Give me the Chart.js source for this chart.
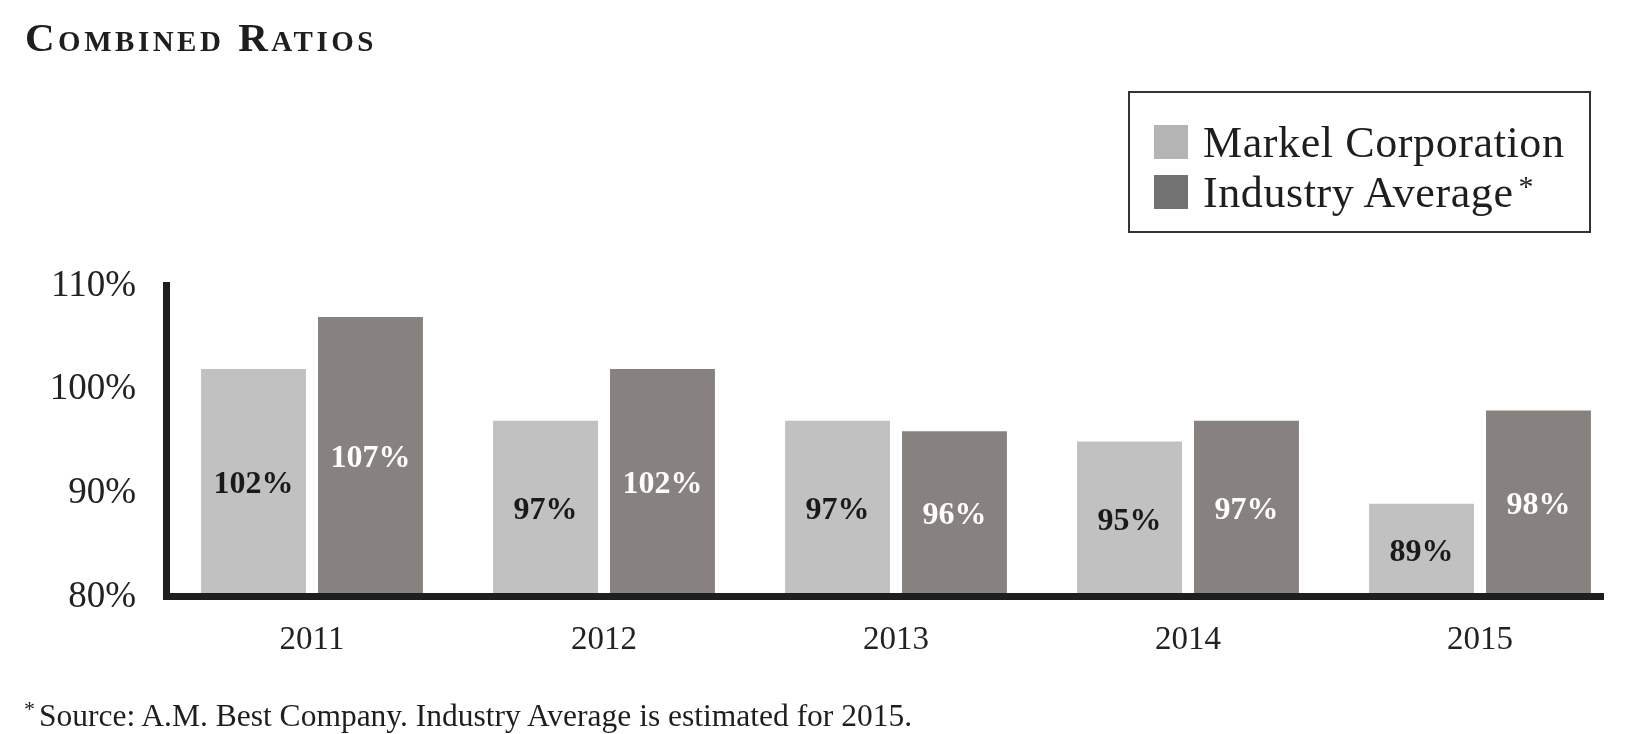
<!DOCTYPE html>
<html>
<head>
<meta charset="utf-8">
<script src="https://cdn.jsdelivr.net/npm/chart.js@4"></script>
<style>
    body { margin: 0; background: #fff; }
    #wrap { position: relative; width: 1644px; height: 734px; font-family: "Liberation Serif", serif; color: #1e1e1e; }
    #title { position: absolute; left: 25px; top: 13px; font-size: 41px; font-weight: bold; font-variant: small-caps; letter-spacing: 3.5px; }
    #legend { position: absolute; left: 1128px; top: 91px; width: 459px; height: 138px; border: 2px solid #333; }
    .item { position: absolute; left: 24px; height: 40px; display: flex; align-items: center; font-size: 44px; letter-spacing: 0.6px; white-space: nowrap; }
    .item span.sw { display: inline-block; width: 34px; height: 34px; margin-right: 15px; }
    .item sup { font-size: 30px; margin-left: 5px; position: relative; top: -6px; }
    #note { position: absolute; left: 24px; top: 694px; font-size: 31.5px; white-space: nowrap; }
    #note sup { font-size: 22px; margin-right: 4px; position: relative; top: 2px; }
    canvas { position: absolute; left: 0; top: 0; }
</style>
</head>
<body>
<div id="wrap">
    <canvas id="ratioChart" width="1644" height="734"></canvas>
    <div id="title">Combined Ratios</div>
    <div id="legend"></div>
    <div id="note"><sup>*</sup>Source: A.M. Best Company. Industry Average is estimated for 2015.</div>
</div>
<script>
// --- Data ---
const years = ['2011', '2012', '2013', '2014', '2015'];
const markelRatios = [102, 97, 97, 95, 89];
const industryRatios = [107, 102, 96, 97, 98];
const seriesLabels = ['Markel Corporation', 'Industry Average'];
const seriesNotes = ['', '*'];
const barColors = ['#c1c1c1', '#87827f'];
const legendColors = ['#b4b4b4', '#727272'];
const valueColors = ['#1a1a1a', '#ffffff'];
const yTicks = [80, 90, 100, 110];

// --- Legend (html, boxed) ---
const legendEl = document.getElementById('legend');
seriesLabels.forEach((lbl, i) => {
    const row = document.createElement('div');
    row.className = 'item';
    row.style.top = (29 + i * 50) + 'px';
    row.innerHTML = `<span class="sw" style="background:${legendColors[i]}"></span>${lbl}` +
        (seriesNotes[i] ? `<sup>${seriesNotes[i]}</sup>` : '');
    legendEl.appendChild(row);
});

// thick black axes, drawn over the bar feet
const axisLines = {
    id: 'axisLines',
    afterDatasetsDraw(chart) {
        const { ctx, chartArea } = chart;
        ctx.save();
        ctx.fillStyle = '#1e1e1e';
        ctx.fillRect(chartArea.left - 3, chartArea.top - 4, 7, chartArea.bottom - chartArea.top + 7);
        ctx.fillRect(chartArea.left - 3, chartArea.bottom - 4, chartArea.right - 19 - chartArea.left, 7);
        ctx.restore();
    }
};

// value labels centred in the visible part of each bar
const barValues = {
    id: 'barValues',
    afterDraw(chart) {
        const ctx = chart.ctx;
        const bottom = chart.chartArea.bottom;
        ctx.save();
        ctx.font = 'bold 32px "Liberation Serif", serif';
        ctx.textAlign = 'center';
        ctx.textBaseline = 'middle';
        chart.data.datasets.forEach((ds, di) => {
            chart.getDatasetMeta(di).data.forEach((bar, i) => {
                const base = Math.min(bar.base, bottom);
                ctx.fillStyle = valueColors[di];
                ctx.fillText(ds.data[i] + '%', bar.x, (bar.y + base) / 2 + 2);
            });
        });
        ctx.restore();
    }
};

new Chart(document.getElementById('ratioChart'), {
    type: 'bar',
    data: {
        labels: years,
        datasets: [
            { label: seriesLabels[0], data: markelRatios, backgroundColor: barColors[0] },
            { label: seriesLabels[1], data: industryRatios, backgroundColor: barColors[1] }
        ]
    },
    options: {
        responsive: false,
        animation: false,
        categoryPercentage: 0.801,
        barPercentage: 0.897,
        layout: { padding: { top: 286, right: 18, bottom: 0, left: 0 } },
        plugins: { legend: { display: false }, tooltip: { enabled: false } },
        scales: {
            x: {
                grid: { display: false, drawTicks: false },
                border: { display: false },
                ticks: { color: '#222', font: { family: 'Liberation Serif', size: 33 }, padding: 24 },
                afterFit: (s) => { s.height = 137; }
            },
            y: {
                min: 80, max: 110,
                grid: { display: false, drawTicks: false },
                border: { display: false },
                afterBuildTicks: (s) => { s.ticks = yTicks.map(v => ({ value: v })); },
                ticks: { color: '#222', font: { family: 'Liberation Serif', size: 37 }, padding: 30,
                         callback: (v) => v + '%' },
                afterFit: (s) => { s.width = 166; }
            }
        }
    },
    plugins: [axisLines, barValues]
});
</script>
</body>
</html>
